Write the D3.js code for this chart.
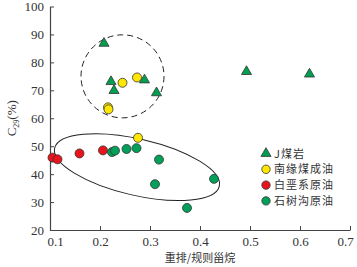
<!DOCTYPE html>
<html>
<head>
<meta charset="utf-8">
<script src="https://cdn.jsdelivr.net/npm/d3@7"></script>
<style>
  body { margin: 0; background: #fff; }
</style>
</head>
<body>
<div id="chart"></div>
<script>
// J煤岩
const coalX = [0.208, 0.222, 0.228, 0.289, 0.313, 0.493, 0.619];
const coalY = [86.8, 73.1, 69.9, 73.7, 69.1, 76.7, 75.8];
// 南缘煤成油
const nanyuanX = [0.245, 0.274, 0.216, 0.217, 0.276];
const nanyuanY = [72.7, 74.6, 63.9, 63.2, 53.0];
// 白垩系原油
const cretX = [0.105, 0.115, 0.159, 0.206];
const cretY = [45.9, 45.3, 47.4, 48.5];
// 石树沟原油
const shishuX = [0.224, 0.230, 0.253, 0.273, 0.318, 0.310, 0.428, 0.374];
const shishuY = [47.9, 48.4, 49.0, 49.3, 45.2, 36.4, 38.3, 27.9];

const xTicks = [0.1, 0.2, 0.3, 0.4, 0.5, 0.6, 0.7];
const yTicks = [20, 30, 40, 50, 60, 70, 80, 90, 100];
const legendNames = ['J煤岩', '南缘煤成油', '白垩系原油', '石树沟原油'];

const width = 357, height = 267;
const margin = { top: 6.5, right: 7, bottom: 37, left: 50 };

const serif = '"Liberation Serif", "DejaVu Serif", serif';
const cjk = '"Noto Sans CJK SC", sans-serif';

const svg = d3.select('#chart').append('svg')
  .attr('width', width).attr('height', height);

const x = d3.scaleLinear().domain([0.1, 0.7]).range([margin.left, width - margin.right]);
const y = d3.scaleLinear().domain([20, 100]).range([height - margin.bottom, margin.top]);

const axisColor = '#444';

svg.append('g')
  .attr('transform', `translate(0,${y(20)})`)
  .call(d3.axisBottom(x).tickValues(xTicks).tickSizeInner(-4).tickSizeOuter(0).tickPadding(7).tickFormat(d3.format('.1f')))
  .call(g => g.select('.domain').attr('stroke', axisColor).attr('stroke-width', 1.2))
  .call(g => g.selectAll('line').attr('stroke', axisColor))
  .call(g => g.selectAll('text').style('font-size', '13px').attr('fill', '#333').style('font-family', serif)
    .attr('dx', (d, i) => i === 0 ? 5 : (i === xTicks.length - 1 ? -5 : 0)));

svg.append('g')
  .attr('transform', `translate(${x(0.1)},0)`)
  .call(d3.axisLeft(y).tickValues(yTicks).tickSizeInner(-4).tickSizeOuter(0).tickPadding(6))
  .call(g => g.select('.domain').attr('stroke', axisColor).attr('stroke-width', 1.2))
  .call(g => g.selectAll('line').attr('stroke', axisColor))
  .call(g => g.selectAll('text').style('font-size', '13px').attr('fill', '#333').style('font-family', serif));

// axis titles
svg.append('text')
  .attr('x', x(0.4)).attr('y', 262)
  .attr('text-anchor', 'middle')
  .style('font-size', '11px').attr('fill', '#333')
  .style('font-family', cjk)
  .text('重排/规则甾烷');

const yl = svg.append('text')
  .attr('transform', `translate(16,${y(60)}) rotate(-90)`)
  .attr('text-anchor', 'middle')
  .style('font-size', '13px').style('font-family', serif).attr('fill', '#333');
yl.append('tspan').text('C');
yl.append('tspan').style('font-size', '8px').attr('dy', 3).text('29');
yl.append('tspan').attr('dy', -3).text('(%)');

// dashed circle around coal / coal-derived oil group
const circCenter = [0.245, 75];
svg.append('circle')
  .attr('cx', x(circCenter[0])).attr('cy', y(circCenter[1]))
  .attr('r', 41.5)
  .attr('fill', 'none').attr('stroke', '#222').attr('stroke-width', 1)
  .attr('stroke-dasharray', '6,4');

// solid ellipse around crude oils
const ellCenter = [0.274, 42.5];
svg.append('ellipse')
  .attr('transform', `translate(${x(ellCenter[0])},${y(ellCenter[1])}) rotate(13)`)
  .attr('rx', 84.5).attr('ry', 28.2)
  .attr('fill', 'none').attr('stroke', '#222').attr('stroke-width', 1);

const tri = d3.symbol().type(d3.symbolTriangle).size(44);
const zip = (xs, ys) => xs.map((v, i) => [v, ys[i]]);

function circles(data, fill) {
  svg.append('g').selectAll('circle').data(data).enter().append('circle')
    .attr('cx', d => x(d[0])).attr('cy', d => y(d[1]))
    .attr('r', 4.5)
    .attr('fill', fill).attr('stroke', '#333').attr('stroke-width', 0.8);
}

circles(zip(nanyuanX, nanyuanY), '#ffe800');
circles(zip(cretX, cretY), '#e8141c');
circles(zip(shishuX, shishuY), '#00a05a');

svg.append('g').selectAll('path').data(zip(coalX, coalY)).enter().append('path')
  .attr('d', tri)
  .attr('transform', d => `translate(${x(d[0])},${y(d[1])})`)
  .attr('fill', '#00a050').attr('stroke', '#333').attr('stroke-width', 0.8);

// legend
const legendFills = ['#00a050', '#ffe800', '#e8141c', '#00a05a'];
const lg = svg.append('g').attr('transform', 'translate(266,153.5)');
legendNames.forEach((name, i) => {
  const row = lg.append('g').attr('transform', `translate(0,${i * 15.8})`);
  if (i === 0) {
    row.append('path').attr('d', tri).attr('fill', legendFills[i])
      .attr('stroke', '#333').attr('stroke-width', 0.8);
  } else {
    row.append('circle').attr('r', 4.2).attr('fill', legendFills[i])
      .attr('stroke', '#333').attr('stroke-width', 0.8);
  }
  row.append('text').attr('x', 8).attr('y', 4)
    .style('font-size', '11px').attr('fill', '#333')
    .style('font-family', cjk)
    .attr('letter-spacing', 1)
    .text(name);
});
</script>
</body>
</html>
